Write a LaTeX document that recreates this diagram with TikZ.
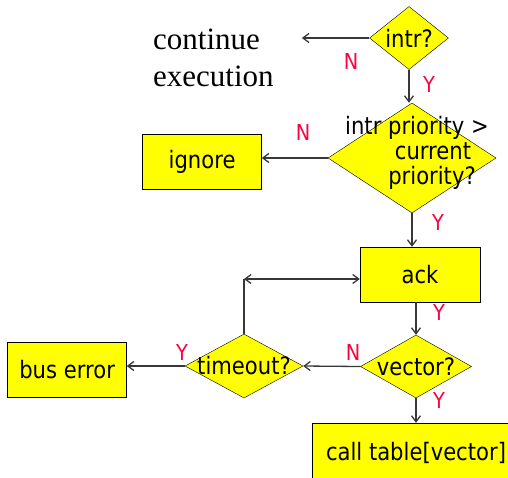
\documentclass[tikz,border=0pt]{standalone}
\usepackage{fontspec}
\newfontfamily\flowfont{DejaVu Sans}[FakeStretch=0.88]
\newfontfamily\plainfont{Liberation Serif}
\usetikzlibrary{shapes.geometric, positioning, arrows.meta}
\definecolor{flowyellow}{RGB}{255,255,0}
\definecolor{answerred}{RGB}{255,0,64}
\definecolor{linegray}{RGB}{55,55,55}

\begin{document}
\begin{tikzpicture}[
    x=1pt, y=-1pt,
    >={Straight Barb[length=6pt,width=9pt]},
    block/.style={draw, rectangle, fill=flowyellow, minimum width=119pt, minimum height=55pt, font=\flowfont\fontsize{24}{25}\selectfont},
    decision/.style={draw, diamond, fill=flowyellow, inner sep=0pt},
    qtext/.style={font=\flowfont\fontsize{24}{25}\selectfont, align=center, inner sep=0pt},
    answer/.style={text=answerred, font=\flowfont\fontsize{22}{24}\selectfont, inner sep=0pt},
    flow/.style={->, draw=linegray, line width=1.3pt}
]
    \useasboundingbox (0,0) rectangle (508,477);
    \clip (0,0) rectangle (508,477);

    % Decisions
    \node[decision, minimum width=79pt, minimum height=63pt, label={[qtext]center:intr?}] (intr) at (409,38) {};
    \node[decision, minimum width=168pt, minimum height=110pt] (prio) at (412,158) {};
    \node[qtext] (priotext) at (417,153) {intr priority >\\\hspace*{32pt}current\\\hspace*{30pt}priority?};
    \node[decision, minimum width=111pt, minimum height=63pt, label={[qtext]center:vector?}] (vector) at (416,366.5) {};
    \node[decision, minimum width=118pt, minimum height=64pt, label={[qtext]center:timeout?}] (timeout) at (244,366) {};

    % Blocks
    \node[block, left=66pt of prio, yshift=-3.5pt] (ignore) {ignore};
    \node[block, minimum width=120pt] (ack) at (420,274.5) {ack};
    \node[block, left=58pt of timeout, yshift=-4pt] (buserr) {bus error};
    \node[block, minimum width=208pt, minimum height=60pt] (call) at (416,453) {call table[vector]};
    \node[font=\plainfont\fontsize{31}{37}\selectfont, align=left, inner sep=0pt, anchor=west] (cont) at (153,58) {continue\\execution};

    % Connections
    \draw[flow, shorten >=28pt] (intr.west) -- (intr.west -| cont.east);
    \draw[flow] (intr.south) -- (intr.south |- prio.north);
    \draw[flow] (prio.west) -- (prio.west -| ignore.east);
    \draw[flow] (prio.south) -- (prio.south |- ack.north);
    \draw[flow] (vector.north |- ack.south) -- (vector.north);
    \draw[flow] (vector.south) -- (vector.south |- call.north);
    \draw[flow] (vector.west) -- (timeout.east);
    \draw[flow] (timeout.west) -- (timeout.west -| buserr.east);

    % Retry loop
    \coordinate (loop) at (timeout.north |- 0,279);
    \draw[draw=linegray, line width=1.3pt] (timeout.north) -- (loop);
    \draw[flow, <->] (loop) -- (loop -| ack.west);

    % Answers
    \node[answer] (n1) at (351,61) {N};
    \node[answer] (y1) at (429,84) {Y};
    \node[answer] (n2) at (303,132) {N};
    \node[answer] (y2) at (438,222) {Y};
    \node[answer] (y3) at (439,312) {Y};
    \node[answer] (n3) at (353,352) {N};
    \node[answer] (y4) at (182,352) {Y};
    \node[answer] (y5) at (439,400) {Y};

\end{tikzpicture}
\end{document}
